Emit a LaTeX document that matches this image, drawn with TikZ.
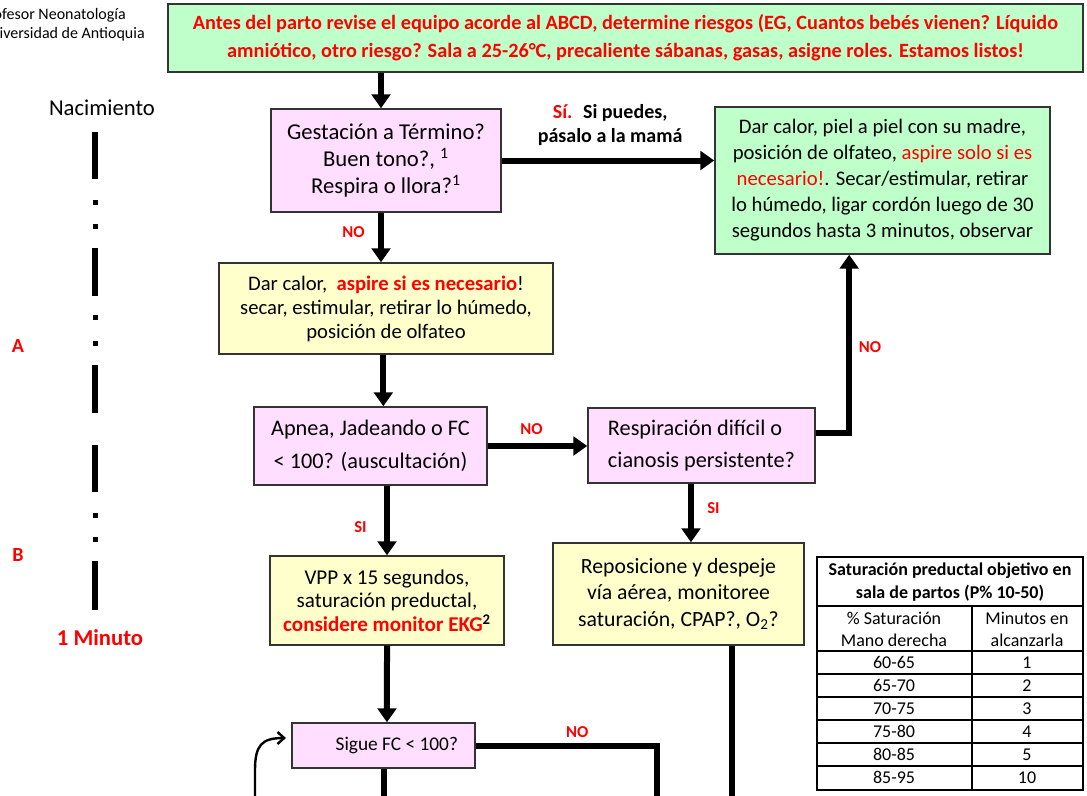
\documentclass[tikz,border=0pt]{standalone}
\usepackage{fontspec}
\setmainfont{Carlito}
\usepackage{xcolor}
\usetikzlibrary{arrows.meta,positioning}

\definecolor{boxgreen}{RGB}{190,255,202}
\definecolor{boxpink}{RGB}{255,222,255}
\definecolor{boxyellow}{RGB}{255,255,204}
\definecolor{alert}{RGB}{255,0,0}
\newcommand{\alrt}[1]{\textcolor{alert}{\textbf{#1}}}

\begin{document}
\begin{tikzpicture}[x=0.75pt, y=-0.75pt,
  stage/.style={draw=black!80, line width=1.1pt, align=center, inner sep=0pt, font=\fontsize{15.5}{19.5}\selectfont},
  edge/.style={-{Triangle[length=10.5pt,width=14pt]}, line width=4.5pt},
  flow/.style={line width=4.5pt},
  loopedge/.style={-{Straight Barb[length=5pt,width=9pt]}, line width=1.8pt},
  lbl/.style={text=alert, font=\bfseries\fontsize{12.5}{14}\selectfont, inner sep=0pt},
  side/.style={font=\fontsize{17}{19}\selectfont, inner sep=0pt},
  tline/.style={line width=3.8pt},
  cell/.style={font=\fontsize{13.5}{16.5}\selectfont, align=center, inner sep=0pt}
]
\useasboundingbox (0,0) rectangle (1087,795);
\clip (0,0) rectangle (1087,795);

% header top left
\node[side, font=\fontsize{12}{13}\selectfont, anchor=east] (prof) at (126,15) {Profesor Neonatología};
\node[side, font=\fontsize{12}{13}\selectfont, anchor=east] (udea) at (145,34) {Universidad de Antioquia};

% time line
\node[side] (nac) at (102,108) {Nacimiento};
\foreach \a/\b in {132/179,248/296,365/413,445/492,561/610}{\draw[tline] (95,\a)--(95,\b);}
\foreach \d in {202,226,317,343,515,539}{\fill (92.5,\d-2.5) rectangle ++(5,5);}
\node[lbl, font=\bfseries\fontsize{15}{17}\selectfont] (la) at (18,346) {A};
\node[lbl, font=\bfseries\fontsize{15}{17}\selectfont] (lb) at (18,555) {B};
\node[lbl, font=\bfseries\fontsize{17}{19}\selectfont] (min) at (100,638) {1 Minuto};

% boxes
\node[stage, fill=boxgreen, minimum width=686pt, minimum height=51pt, text=alert, font=\bfseries\fontsize{15.2}{21}\selectfont] (top) at (625.5,38)
  {Antes del parto revise el equipo acorde al ABCD, determine riesgos (EG, Cuantos bebés vienen? Líquido\\ amniótico, otro riesgo? Sala a 25-26°C, precaliente sábanas, gasas, asigne roles. Estamos listos!};
\node[stage, fill=boxpink, minimum width=172.5pt, minimum height=77.25pt, font=\fontsize{17}{20.5}\selectfont] (gest) at (386,160.5)
  {Gestación a Término?\\ Buen tono?, \textsuperscript{1}\\ Respira o llora?\textsuperscript{1}};
\node[stage, fill=boxgreen, minimum width=251.25pt, minimum height=110.25pt] (piel) at (882.5,180.5)
  {Dar calor, piel a piel con su madre,\\ posición de olfateo, \textcolor{alert}{aspire solo si es}\\ \textcolor{alert}{necesario!}. Secar/estimular, retirar\\ lo húmedo, ligar cordón luego de 30\\ segundos hasta 3 minutos, observar};
\node[stage, fill=boxyellow, minimum width=250.5pt, minimum height=68.25pt, font=\fontsize{15.5}{18}\selectfont] (calor) at (386,308.5)
  {Dar calor,~ \alrt{aspire si es necesario}!\\ secar, estimular, retirar lo húmedo,\\ posición de olfateo};
\node[stage, fill=boxpink, minimum width=174.75pt, minimum height=58.5pt, font=\fontsize{16.7}{24.5}\selectfont] (apnea) at (370.5,446)
  {Apnea, Jadeando o FC\\ < 100? (auscultación)};
\node[stage, fill=boxpink, minimum width=170.25pt, minimum height=56.25pt, align=left, font=\fontsize{16.7}{24.5}\selectfont] (resp) at (701.5,445.5)
  {Respiración difícil o\\ cianosis persistente?};
\node[stage, fill=boxyellow, minimum width=175.5pt, minimum height=66.75pt, font=\fontsize{15.8}{17.8}\selectfont] (vpp) at (387,600.5)
  {VPP x 15 segundos,\\ saturación preductal,\\ \alrt{considere monitor EKG}\textbf{\textsuperscript{2}}};
\node[stage, fill=boxyellow, minimum width=188.25pt, minimum height=76.5pt, font=\fontsize{16.3}{20}\selectfont] (repos) at (678.5,594)
  {Reposicione y despeje\\ vía aérea, monitoree\\ saturación, CPAP?, O\textsubscript{2}?};
\node[stage, fill=boxpink, minimum width=137.25pt, minimum height=33.75pt, font=\fontsize{14.5}{17}\selectfont] (sigue) at (383.5,745.5)
  {\hspace*{20pt}Sigue FC < 100?};

% connectors
\coordinate (sigueend) at (383.5,800);
\coordinate (nodown) at (657,800);
\coordinate (reposend) at (732,800);
\coordinate (loopstart) at (255,800);
\draw[edge] ([xshift=-3.75pt]top.south -| gest.north) -- ([xshift=-3.75pt]gest.north);
\draw[edge] ([xshift=-3.75pt]gest.south) -- node[lbl, left=10pt, pos=.4] (no1) {NO} ([xshift=-3.75pt]gest.south |- calor.north);
\draw[edge] (gest.east) -- node[above=9pt, pos=.51, align=center, inner sep=0pt, font=\bfseries\fontsize{15}{18}\selectfont] (si1) {\textcolor{alert}{Sí.}~ Si puedes,\\ pásalo a la mamá} (gest.east -| piel.west);
\draw[edge] ([xshift=-2pt]calor.south) -- ([xshift=-2pt]calor.south |- apnea.north);
\draw[edge] (apnea.east) -- node[lbl, above=6pt, pos=.44] (no2) {NO} (apnea.east -| resp.west);
\draw[edge] ([yshift=9.4pt]resp.east) -| node[lbl, right=5pt, pos=.74] (no3) {NO} ([xshift=-25pt]piel.south);
\draw[edge] (vpp.north |- apnea.south) -- node[lbl, left=13pt, pos=.59] (si2) {SI} (vpp.north);
\draw[edge] ([xshift=-7.9pt]resp.south) -- node[lbl, right=10pt, pos=.42] (si3) {SI} ([xshift=-7.9pt]resp.south |- repos.north);
\draw[edge] (vpp.south) -- ([xshift=2.6pt]sigue.north);
\draw[flow] (sigue.south) -- (sigueend);
\draw[flow] (sigue.east) -| node[lbl, above=4pt, pos=.28] (no4) {NO} (nodown);
\draw[flow] (repos.south -| reposend) -- (reposend);
\draw[loopedge] (loopstart) -- (255,770) .. controls (255,745) and (262,738) .. ([xshift=-4pt,yshift=5.6pt]sigue.west);

% table
\draw[line width=.8pt] (817,557) rectangle (1083,790);
\foreach \yy in {606,651,674,697,720,743,766}{\draw[line width=.8pt] (817,\yy)--(1083,\yy);}
\draw[line width=.8pt] (972,606)--(972,790);
\node[cell, font=\bfseries\fontsize{13.5}{17}\selectfont] (ttl) at (950,582) {Saturación preductal objetivo en\\ sala de partos (P\% 10-50)};
\node[cell] (hsat) at (894,629) {\% Saturación\\ Mano derecha};
\node[cell] (hmin) at (1027,629) {Minutos en\\ alcanzarla};
\foreach \yy/\s/\m [count=\i] in {662.5/60-65/1,685.5/65-70/2,708.5/70-75/3,731.5/75-80/4,754.5/80-85/5,777.5/85-95/10}{
  \node[cell] (s\i) at (894,\yy) {\s};
  \node[cell] (m\i) at (1027,\yy) {\m};
}
\end{tikzpicture}
\end{document}
